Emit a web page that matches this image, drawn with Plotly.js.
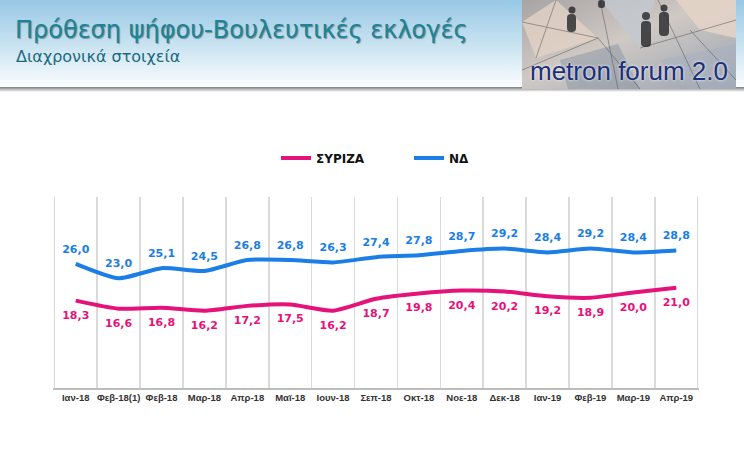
<!DOCTYPE html>
<html>
<head>
<meta charset="utf-8">
<script src="https://cdn.plot.ly/plotly-3.0.1.min.js"></script>
<style>
  html, body { margin: 0; padding: 0; background: #fff; }
  #plot { width: 744px; height: 472px; }
</style>
</head>
<body>
<div id="plot"></div>
<script>
// Months of the survey waves
var months = ['Ιαν-18', 'Φεβ-18(1)', 'Φεβ-18', 'Μαρ-18', 'Απρ-18', 'Μαϊ-18', 'Ιουν-18', 'Σεπ-18',
  'Οκτ-18', 'Νοε-18', 'Δεκ-18', 'Ιαν-19', 'Φεβ-19', 'Μαρ-19', 'Απρ-19'];

// Vote intention (%) per party
var syriza = [18.3, 16.6, 16.8, 16.2, 17.2, 17.5, 16.2, 18.7, 19.8, 20.4, 20.2, 19.2, 18.9, 20.0, 21.0];
var nd = [26.0, 23.0, 25.1, 24.5, 26.8, 26.8, 26.3, 27.4, 27.8, 28.7, 29.2, 28.4, 29.2, 28.4, 28.8];

var pink = '#E5127A';
var blue = '#1A7EE6';

// plot area in pixels, used to place the header pieces in paper coords
var W = 744, H = 472;
var mL = 53, mR = 45, mT = 197, mB = 84;
var pw = W - mL - mR, ph = H - mT - mB;
function px(x) { return (x - mL) / pw; }
function py(y) { return (H - mB - y) / ph; }

// header background (gradient banner, shadow, picture box) as an svg image
var bannerSvg = '<svg xmlns="http://www.w3.org/2000/svg" width="744" height="94">' +
  '<defs><linearGradient id="g" x1="0" y1="0" x2="0" y2="1">' +
  '<stop offset="0" stop-color="#97C8E5"/><stop offset="0.55" stop-color="#CDE5F2"/>' +
  '<stop offset="1" stop-color="#FBFDFE"/></linearGradient>' +
  '<linearGradient id="s" x1="0" y1="0" x2="0" y2="1">' +
  '<stop offset="0" stop-color="#7C7C7C"/><stop offset="1" stop-color="#FFFFFF"/></linearGradient>' +
  '<linearGradient id="p" x1="0" y1="0" x2="1" y2="1">' +
  '<stop offset="0" stop-color="#A8A4A4"/><stop offset="0.45" stop-color="#CFC9C4"/>' +
  '<stop offset="1" stop-color="#9AA3B2"/></linearGradient></defs>' +
  '<rect x="0" y="0" width="744" height="88" fill="url(#g)"/>' +
  '<rect x="0" y="87" width="744" height="5" fill="url(#s)"/>' +
  '<rect x="522" y="0" width="214" height="89" fill="url(#p)"/>' +
  '<polygon points="522,22 556,0 598,38 536,58" fill="#E2D2C6" opacity="0.8"/>' +
  '<polygon points="600,0 655,0 640,48" fill="#C3C8D0" opacity="0.8"/>' +
  '<polygon points="676,0 736,0 736,38 700,30" fill="#E3D3C6" opacity="0.9"/>' +
  '<polygon points="560,60 618,44 640,89 568,89" fill="#8E97A5" opacity="0.55"/>' +
  '<polygon points="660,60 736,44 736,89 690,89" fill="#A9B1BE" opacity="0.6"/>' +
  '<g stroke="#4A4A4A" stroke-width="0.8" fill="none" opacity="0.6">' +
  '<line x1="522" y1="22" x2="598" y2="38"/><line x1="556" y1="0" x2="536" y2="58"/>' +
  '<line x1="598" y1="38" x2="640" y2="89"/><line x1="640" y1="48" x2="736" y2="20"/>' +
  '<line x1="658" y1="0" x2="700" y2="89"/><line x1="600" y1="0" x2="618" y2="89"/>' +
  '<line x1="690" y1="30" x2="736" y2="80"/><line x1="522" y1="70" x2="598" y2="38"/></g>' +
  '<g fill="#26262A" opacity="0.8">' +
  '<circle cx="646" cy="16" r="4"/><rect x="641" y="21" width="10" height="26" rx="4"/>' +
  '<circle cx="664" cy="8" r="3.5"/><rect x="659" y="12" width="10" height="24" rx="4"/>' +
  '<circle cx="572" cy="10" r="3.5"/><rect x="567" y="14" width="9" height="18" rx="4"/>' +
  '<rect x="598" y="0" width="7" height="8" rx="3"/></g>' +
  '</svg>';
var bannerUri = 'data:image/svg+xml;charset=utf-8,' + encodeURIComponent(bannerSvg);

var labelFont = { family: 'DejaVu Sans', size: 11, weight: 'bold' };

// lines (these carry the legend)
var lineSyriza = {
  x: months, y: syriza, name: 'ΣΥΡΙΖΑ', type: 'scatter', mode: 'lines',
  line: { color: pink, width: 4, shape: 'spline', smoothing: 0.6 },
  hoverinfo: 'skip'
};
var lineNd = {
  x: months, y: nd, name: 'ΝΔ', type: 'scatter', mode: 'lines',
  line: { color: blue, width: 4, shape: 'spline', smoothing: 0.6 },
  hoverinfo: 'skip'
};

// value labels, pushed off the line by invisible markers
var textSyriza = {
  x: months, y: syriza, type: 'scatter', mode: 'markers+text', showlegend: false,
  marker: { size: 14, opacity: 0 },
  texttemplate: '%{y:.1f}', textposition: 'bottom center',
  textfont: Object.assign({ color: pink }, labelFont),
  hoverinfo: 'skip'
};
var textNd = {
  x: months, y: nd, type: 'scatter', mode: 'markers+text', showlegend: false,
  marker: { size: 12, opacity: 0 },
  texttemplate: '%{y:.1f}', textposition: 'top center',
  textfont: Object.assign({ color: blue }, labelFont),
  hoverinfo: 'skip'
};

var layout = {
  width: W,
  height: H,
  margin: { l: mL, r: mR, t: mT, b: mB },
  paper_bgcolor: '#ffffff',
  plot_bgcolor: '#ffffff',
  separators: ',.',
  showlegend: true,
  legend: {
    orientation: 'h',
    x: px(276), xanchor: 'left',
    y: py(158), yanchor: 'middle',
    font: { family: 'DejaVu Sans', size: 12, weight: 'bold', color: '#111' },
    itemwidth: 30,
    entrywidth: 88,
    traceorder: 'normal'
  },
  xaxis: {
    type: 'category',
    range: [-0.53, months.length - 0.47],
    tickson: 'boundaries',
    ticks: '',
    showgrid: true,
    gridcolor: '#DADADA',
    gridwidth: 1.5,
    showline: true,
    linecolor: '#BDBDBD',
    linewidth: 2,
    tickfont: { family: 'Liberation Sans', size: 9.5, weight: 'bold', color: '#333' },
    tickangle: 0,
    fixedrange: true
  },
  yaxis: {
    range: [0, 40],
    showgrid: false,
    zeroline: false,
    showticklabels: false,
    ticks: '',
    fixedrange: true
  },
  images: [{
    source: bannerUri,
    xref: 'paper', yref: 'paper',
    x: px(0), y: py(0),
    sizex: W / pw, sizey: 94 / ph,
    xanchor: 'left', yanchor: 'top',
    sizing: 'stretch',
    layer: 'below'
  }],
  annotations: [
    {
      text: 'Πρόθεση ψήφου-Βουλευτικές εκλογές',
      xref: 'paper', yref: 'paper',
      x: px(13), y: py(30),
      xanchor: 'left', yanchor: 'middle',
      showarrow: false,
      font: { family: 'DejaVu Sans', size: 24, color: '#1D8397', shadow: '1px 1px 1px rgba(0,0,0,0.35)' }
    },
    {
      text: 'Διαχρονικά στοιχεία',
      xref: 'paper', yref: 'paper',
      x: px(14), y: py(57),
      xanchor: 'left', yanchor: 'middle',
      showarrow: false,
      font: { family: 'DejaVu Sans', size: 16, color: '#1B6B7E' }
    },
    {
      text: 'metron forum 2.0',
      xref: 'paper', yref: 'paper',
      x: px(629), y: py(71),
      xanchor: 'center', yanchor: 'middle',
      showarrow: false,
      font: { family: 'Liberation Sans', size: 26, color: '#1C2F78', shadow: '0 0 3px #ffffff' }
    }
  ]
};

Plotly.newPlot('plot', [lineSyriza, lineNd, textSyriza, textNd], layout, { displayModeBar: false, staticPlot: true });
</script>
</body>
</html>
